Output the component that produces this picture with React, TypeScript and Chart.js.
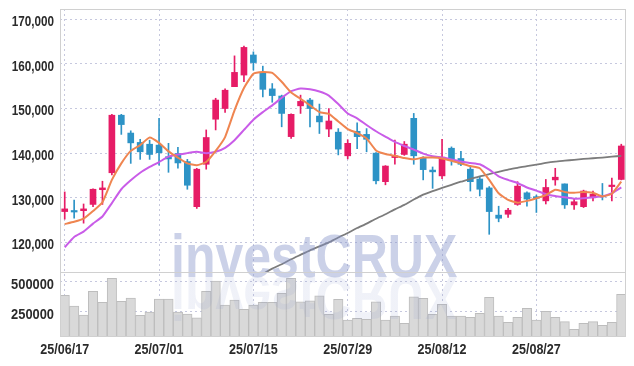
import React, { useEffect, useRef } from 'react';
import { Chart, registerables } from 'chart.js';

Chart.register(...registerables);

const dates = [
  '25/06/17', '25/06/18', '25/06/19', '25/06/20', '25/06/23', '25/06/24', '25/06/25', '25/06/26', '25/06/27', '25/06/30',
  '25/07/01', '25/07/02', '25/07/03', '25/07/04', '25/07/07', '25/07/08', '25/07/09', '25/07/10', '25/07/11', '25/07/14',
  '25/07/15', '25/07/16', '25/07/17', '25/07/18', '25/07/21', '25/07/22', '25/07/23', '25/07/24', '25/07/25', '25/07/28',
  '25/07/29', '25/07/30', '25/07/31', '25/08/01', '25/08/04', '25/08/05', '25/08/06', '25/08/07', '25/08/08', '25/08/11',
  '25/08/12', '25/08/13', '25/08/14', '25/08/18', '25/08/19', '25/08/20', '25/08/21', '25/08/22', '25/08/25', '25/08/26',
  '25/08/27', '25/08/28', '25/08/29', '25/09/01', '25/09/02', '25/09/03', '25/09/04', '25/09/05', '25/09/08', '25/09/09',
];
const tickLabels = ['25/06/17', '25/07/01', '25/07/15', '25/07/29', '25/08/12', '25/08/27'];

const opens = [
  126900, 127000, 127100, 128500, 131800, 135600, 148500, 144500, 142400, 142000,
  141800, 139200, 139900, 138100, 128000, 137500, 147600, 150000, 154900, 157500,
  162000, 158000, 154400, 152800, 143700, 150600, 151900, 148300, 145400, 144700,
  139400, 144900, 144200, 140000, 133600, 139000, 139700, 147800, 138900, 136200,
  134900, 141100, 138800, 136400, 134200, 132200, 126100, 126300, 128500, 131100,
  130100, 129300, 134000, 133100, 128400, 128000, 130000, 130400, 132500, 134100,
];
const highs = [
  131300, 129500, 128600, 132000, 133700, 148700, 148700, 145000, 143100, 142900,
  147800, 142200, 141300, 138600, 136600, 145200, 152300, 154400, 161800, 164000,
  162700, 159500, 155600, 153000, 148800, 153000, 152300, 151000, 150000, 145500,
  143000, 146800, 145500, 140100, 137200, 142900, 142600, 148900, 139200, 136900,
  143100, 141400, 140400, 136800, 134700, 132500, 128100, 127600, 133600, 131300,
  130600, 134100, 136600, 133100, 129700, 131700, 131500, 133200, 134400, 142000,
];
const lows = [
  125200, 125400, 124300, 128000, 128500, 135100, 144200, 137700, 138600, 138600,
  137300, 135700, 136600, 131900, 127600, 136400, 145200, 149100, 154900, 156000,
  158600, 152600, 151400, 145900, 143300, 148900, 145900, 144400, 143700, 139600,
  138700, 141000, 140300, 133100, 132900, 137500, 139500, 137500, 134000, 132100,
  134300, 137300, 137200, 131500, 130400, 121800, 124600, 125600, 128300, 128100,
  126700, 128600, 132800, 127600, 127400, 127800, 129300, 129500, 129300, 134000,
];
const closes = [
  127500, 126800, 127500, 131900, 132200, 148500, 146400, 142300, 140300, 139700,
  140100, 138700, 137800, 132800, 136400, 143500, 151900, 154100, 158100, 163700,
  160300, 154300, 152900, 148900, 148700, 151600, 150000, 147000, 147200, 140900,
  142200, 143700, 143100, 133800, 137100, 139400, 142000, 139400, 136300, 135800,
  139100, 138600, 137500, 133600, 131900, 126900, 125400, 127200, 132600, 129700,
  129900, 132300, 134600, 128400, 129100, 131500, 130800, 130200, 132600, 141600,
];

const maShort = [
  124100, 124600, 125300, 127000, 129000, 134000, 137700, 140500, 141800, 143500,
  142300, 140400, 139000, 137700, 137300, 138000, 140500, 143600, 149600, 154600,
  157800, 158200, 158000, 156000, 153600, 152200, 150700, 149200, 148800, 147100,
  145400, 144500, 143300, 140600, 139800, 139400, 138900, 138600, 139000, 139000,
  138800, 138300, 137700, 137100, 136600, 134000, 131000, 129500, 128900, 129300,
  129900, 130600, 131800, 131300, 131100, 131300, 131100, 130300, 130900, 133600,
];
const maMid = [
  118900, 121200, 122400, 124200, 125800, 128800, 131900, 133900, 135600, 136900,
  138000, 139200, 139700, 140000, 140300, 140000, 140300, 141200, 142900, 145200,
  147500, 149200, 150700, 152400, 153900, 154500, 154300, 153800, 152900, 151000,
  148900, 147800, 146300, 144900, 143700, 142500, 141600, 140800, 139900, 139300,
  139000, 138600, 138100, 137800, 137500, 136300, 134800, 134000, 133300, 132300,
  131600, 130800, 130400, 130100, 129800, 129900, 130100, 130300, 131000, 132300,
];
const maLong = [
  null, null, null, null, null, null, null, null, null, null,
  null, null, null, null, null, null, null, null, null, null,
  null, 112900, 114100, 115100, 116200, 117200, 118200, 119100, 120000, 121100,
  122100, 123200, 124200, 125300, 126300, 127400, 128400, 129600, 130700, 131500,
  132200, 132900, 133600, 134200, 134800, 135300, 135800, 136300, 136700, 137100,
  137400, 137800, 138100, 138300, 138500, 138700, 138850, 139000, 139200, 139400,
];
const volumes = [
  386700, 297500, 222500, 420000, 328300, 528300, 336700, 364200, 220000, 247500,
  355800, 355800, 247500, 230800, 200000, 419600, 505800, 305800, 347500, 270000,
  305800, 328300, 328300, 403300, 528300, 333300, 341700, 383300, 228300, 353300,
  180800, 195000, 186700, 333300, 180800, 214200, 153300, 375000, 361700, 228300,
  311700, 214200, 214200, 203300, 236700, 370000, 214200, 161700, 203300, 278300,
  180800, 253300, 203300, 166700, 103300, 153300, 166700, 136700, 161700, 395000,
];
const priceTicks = [120000, 130000, 140000, 150000, 160000, 170000];
const volumeTicks = [250000, 500000];

const UP = '#e61c66';
const DOWN = '#2d93c6';
const ORANGE = '#ef8550';
const MAGENTA = '#c95ce8';
const GRAY = '#7c7c7c';
const GRID = '#c6c8de';
const FRAME = '#d0d0d0';
const TEXT = '#2b2b2b';
const LABEL_FONT = "bold 15.5px 'Liberation Sans', Arial, sans-serif";

function narrowText(ctx: CanvasRenderingContext2D, text: string, x: number, y: number, align: CanvasTextAlign, sx: number) {
  ctx.save();
  ctx.translate(x, y);
  ctx.scale(sx, 1);
  ctx.textAlign = align;
  ctx.fillText(text, 0, 0);
  ctx.restore();
}

const panelPlugin = {
  id: 'panels',
  beforeDatasetDraw(chart: any, args: any) {
    const ys = chart.scales[args.meta.yAxisID];
    const a = chart.chartArea;
    const ctx = chart.ctx;
    ctx.save();
    ctx.beginPath();
    ctx.rect(a.left, ys.top, a.right - a.left, ys.bottom - ys.top);
    ctx.clip();
  },
  afterDatasetDraw(chart: any) {
    chart.ctx.restore();
  },
  afterDraw(chart: any) {
    const ctx = chart.ctx as CanvasRenderingContext2D;
    const a = chart.chartArea;
    const py = chart.scales.y;
    const vy = chart.scales.yv;
    const xs = chart.scales.x;
    ctx.save();
    // axis labels (condensed)
    ctx.font = LABEL_FONT;
    ctx.fillStyle = TEXT;
    ctx.textBaseline = 'alphabetic';
    priceTicks.forEach((v) => {
      narrowText(ctx, v.toLocaleString('en-US'), a.left - 6, py.getPixelForValue(v) + 6.9, 'right', 0.755);
    });
    volumeTicks.forEach((v) => {
      narrowText(ctx, String(v), a.left - 6, vy.getPixelForValue(v) + 6.8, 'right', 0.83);
    });
    dates.forEach((d, i) => {
      if (tickLabels.includes(d)) {
        narrowText(ctx, d, xs.getPixelForValue(i), a.bottom + 17, 'center', 0.81);
      }
    });
    // watermark with reflection
    const base = 277;
    ctx.font = "bold 61px 'Liberation Sans', Arial, sans-serif";
    ctx.textAlign = 'left';
    ctx.fillStyle = 'rgba(130,145,200,0.42)';
    narrowText(ctx, 'investCRUX', 171, base, 'left', 0.82);
    ctx.save();
    ctx.translate(0, 2 * base);
    ctx.scale(1, -1);
    const g = ctx.createLinearGradient(0, base, 0, base - 44);
    g.addColorStop(0, 'rgba(130,145,200,0.45)');
    g.addColorStop(1, 'rgba(130,145,200,0.12)');
    ctx.fillStyle = g;
    narrowText(ctx, 'investCRUX', 171, base, 'left', 0.82);
    ctx.restore();
    // frame
    ctx.strokeStyle = FRAME;
    ctx.lineWidth = 1;
    ctx.beginPath();
    ctx.moveTo(a.left + 0.5, a.top);
    ctx.lineTo(a.left + 0.5, a.bottom);
    ctx.moveTo(a.left, Math.round(a.top) + 0.5);
    ctx.lineTo(a.right, Math.round(a.top) + 0.5);
    ctx.moveTo(a.right - 0.5, a.top);
    ctx.lineTo(a.right - 0.5, a.bottom);
    ctx.moveTo(a.left, Math.round(py.bottom) + 0.5);
    ctx.lineTo(a.right, Math.round(py.bottom) + 0.5);
    ctx.moveTo(a.left, Math.round(a.bottom) - 0.5);
    ctx.lineTo(a.right, Math.round(a.bottom) - 0.5);
    ctx.stroke();
    ctx.restore();
  },
};

export default function App() {
  const ref = useRef<HTMLCanvasElement>(null);
  useEffect(() => {
    const canvas = ref.current!;
    const colors = closes.map((c, i) => (c >= opens[i] ? UP : DOWN));
    const chart = new Chart(canvas, {
      type: 'bar',
      data: {
        labels: dates,
        datasets: [
          { type: 'line', label: 'MA5', data: maShort, borderColor: ORANGE, borderWidth: 2, pointRadius: 0, tension: 0.15, yAxisID: 'y', order: 0 } as any,
          { type: 'line', label: 'MA20', data: maMid, borderColor: MAGENTA, borderWidth: 2, pointRadius: 0, tension: 0.15, yAxisID: 'y', order: 1 } as any,
          { type: 'line', label: 'MA60', data: maLong, borderColor: GRAY, borderWidth: 1.8, pointRadius: 0, tension: 0.15, yAxisID: 'y', order: 2 } as any,
          { type: 'bar', label: 'body', data: opens.map((o, i) => [o, closes[i]]), backgroundColor: colors, borderWidth: 0, barThickness: 6, minBarLength: 1.5, grouped: false, yAxisID: 'y', order: 3 } as any,
          { type: 'bar', label: 'wick', data: lows.map((l, i) => [l, highs[i]]), backgroundColor: colors, borderWidth: 0, barThickness: 1, grouped: false, yAxisID: 'y', order: 4 } as any,
          { type: 'bar', label: 'volume', data: volumes, backgroundColor: '#d9d9d9', borderColor: '#bdbdbd', borderWidth: 1, barPercentage: 1, categoryPercentage: 1, grouped: false, yAxisID: 'yv', order: 5 } as any,
        ],
      },
      options: {
        animation: false,
        responsive: false,
        devicePixelRatio: 1,
        events: [],
        layout: { padding: { top: 9, right: 8, left: 0, bottom: 0 } },
        plugins: { legend: { display: false }, tooltip: { enabled: false } },
        scales: {
          x: {
            type: 'category',
            offset: true,
            grid: {
              offset: false,
              drawTicks: false,
              color: (ctx: any) => (tickLabels.includes(dates[ctx.index]) ? GRID : 'rgba(0,0,0,0)'),
            },
            border: { display: false, dash: [2, 3] },
            ticks: { display: false, autoSkip: false },
            afterFit: (s: any) => { s.height = 29; },
          },
          yv: {
            type: 'linear',
            position: 'left',
            stack: 'panels',
            stackWeight: 1,
            min: 39000,
            max: 581000,
            afterBuildTicks: (s: any) => { s.ticks = volumeTicks.map((v) => ({ value: v })); },
            grid: { drawTicks: false, color: GRID },
            border: { display: false, dash: [2, 3] },
            ticks: { display: false },
            afterFit: (s: any) => { s.width = 60; },
          },
          y: {
            type: 'linear',
            position: 'left',
            stack: 'panels',
            stackWeight: 4.05,
            min: 113340,
            max: 172310,
            afterBuildTicks: (s: any) => { s.ticks = priceTicks.map((v) => ({ value: v })); },
            grid: { drawTicks: false, color: GRID },
            border: { display: false, dash: [2, 3] },
            ticks: { display: false },
            afterFit: (s: any) => { s.width = 60; },
          },
        },
      } as any,
      plugins: [panelPlugin],
    });
    return () => chart.destroy();
  }, []);
  return (
    <div style={{ position: 'absolute', left: 0, top: 0, width: 634, height: 366, background: '#fff' }}>
      <canvas ref={ref} width={634} height={366} style={{ display: 'block' }} />
    </div>
  );
}
